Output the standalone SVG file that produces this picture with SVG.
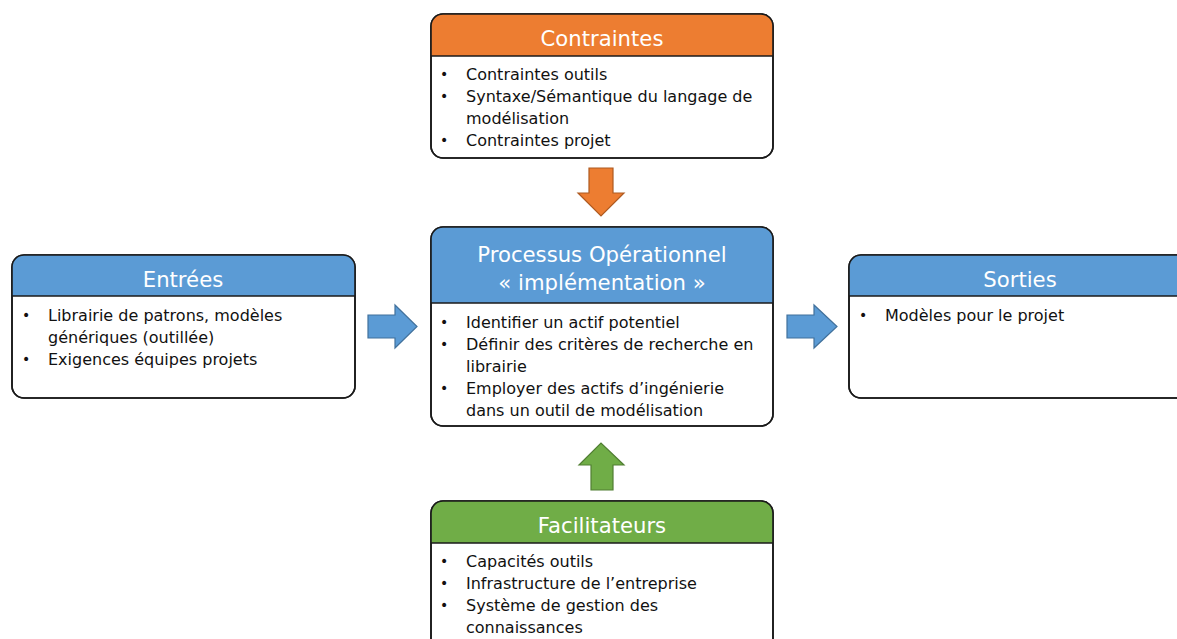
<svg xmlns="http://www.w3.org/2000/svg" width="1177" height="639" viewBox="0 0 1177 639">
<style>
.box{fill:#fff;stroke:#1a1a1a;stroke-width:1.6}
.sep{stroke:#1a1a1a;stroke-width:1.3}
.title{font-family:"DejaVu Sans",Verdana,sans-serif;font-size:21.2px;fill:#fff;text-anchor:middle}
.body{font-family:"DejaVu Sans",Verdana,sans-serif;font-size:16px;fill:#111}
.bl{font-family:"DejaVu Sans",sans-serif;font-size:14px;fill:#111}
.blue{fill:#5B9BD5}
.orange{fill:#ED7D31}
.green{fill:#70AD47}
</style>
<rect width="1177" height="639" fill="#fff"/>
<g id="contraintes">
<rect class="box" x="431" y="14" width="342" height="144" rx="12"/>
<path class="orange" d="M431,56 V26 A12,12 0 0 1 443,14 H761 A12,12 0 0 1 773,26 V56 Z"/>
<rect x="431" y="14" width="342" height="144" rx="12" fill="none" stroke="#1a1a1a" stroke-width="1.6"/>
<line class="sep" x1="431" y1="56" x2="773" y2="56"/>
<text class="title" x="602" y="46">Contraintes</text>
<text class="bl" x="440" y="79">•</text><text class="body" x="466" y="80">Contraintes outils</text>
<text class="bl" x="440" y="101">•</text><text class="body" x="466" y="102">Syntaxe/Sémantique du langage de</text>
<text class="body" x="466" y="124">modélisation</text>
<text class="bl" x="440" y="145">•</text><text class="body" x="466" y="146">Contraintes projet</text>
</g>
<g id="processus">
<rect class="box" x="431" y="227" width="342" height="199" rx="12"/>
<path class="blue" d="M431,303 V239 A12,12 0 0 1 443,227 H761 A12,12 0 0 1 773,239 V303 Z"/>
<rect x="431" y="227" width="342" height="199" rx="12" fill="none" stroke="#1a1a1a" stroke-width="1.6"/>
<line class="sep" x1="431" y1="303" x2="773" y2="303"/>
<text class="title" x="602" y="262">Processus Opérationnel</text>
<text class="title" x="602" y="290">« implémentation »</text>
<text class="bl" x="440" y="327">•</text><text class="body" x="466" y="328">Identifier un actif potentiel</text>
<text class="bl" x="440" y="349">•</text><text class="body" x="466" y="350">Définir des critères de recherche en</text>
<text class="body" x="466" y="372">librairie</text>
<text class="bl" x="440" y="393">•</text><text class="body" x="466" y="394">Employer des actifs d’ingénierie</text>
<text class="body" x="466" y="416">dans un outil de modélisation</text>
</g>
<g id="entrees">
<rect class="box" x="12" y="255" width="343" height="143" rx="12"/>
<path class="blue" d="M12,296 V267 A12,12 0 0 1 24,255 H343 A12,12 0 0 1 355,267 V296 Z"/>
<rect x="12" y="255" width="343" height="143" rx="12" fill="none" stroke="#1a1a1a" stroke-width="1.6"/>
<line class="sep" x1="12" y1="296" x2="355" y2="296"/>
<text class="title" x="183" y="287">Entrées</text>
<text class="bl" x="22" y="320">•</text><text class="body" x="48" y="321">Librairie de patrons, modèles</text>
<text class="body" x="48" y="343">génériques (outillée)</text>
<text class="bl" x="22" y="364">•</text><text class="body" x="48" y="365">Exigences équipes projets</text>
</g>
<g id="sorties">
<rect class="box" x="849" y="255" width="343" height="143" rx="12"/>
<path class="blue" d="M849,296 V267 A12,12 0 0 1 861,255 H1180 A12,12 0 0 1 1192,267 V296 Z"/>
<rect x="849" y="255" width="343" height="143" rx="12" fill="none" stroke="#1a1a1a" stroke-width="1.6"/>
<line class="sep" x1="849" y1="296" x2="1192" y2="296"/>
<text class="title" x="1020" y="287">Sorties</text>
<text class="bl" x="859" y="320">•</text><text class="body" x="885" y="321">Modèles pour le projet</text>
</g>
<g id="facilitateurs">
<rect class="box" x="431" y="501" width="342" height="150" rx="12"/>
<path class="green" d="M431,543 V513 A12,12 0 0 1 443,501 H761 A12,12 0 0 1 773,513 V543 Z"/>
<rect x="431" y="501" width="342" height="150" rx="12" fill="none" stroke="#1a1a1a" stroke-width="1.6"/>
<line class="sep" x1="431" y1="543" x2="773" y2="543"/>
<text class="title" x="602" y="533">Facilitateurs</text>
<text class="bl" x="440" y="566">•</text><text class="body" x="466" y="567">Capacités outils</text>
<text class="bl" x="440" y="588">•</text><text class="body" x="466" y="589">Infrastructure de l’entreprise</text>
<text class="bl" x="440" y="610">•</text><text class="body" x="466" y="611">Système de gestion des</text>
<text class="body" x="466" y="633">connaissances</text>
</g>
<g id="connectors">
<path d="M589,168 H613 V193 H624 L601,216 L578,193 H589 Z" fill="#ED7D31" stroke="#AE5A21" stroke-width="1.2"/>
<path d="M591,490 V465 H579 L601,443 L624,465 H613 V490 Z" fill="#70AD47" stroke="#507E32" stroke-width="1.2"/>
<path d="M368,315 H395 V305 L417,326.5 L395,348 V338 H368 Z" fill="#5B9BD5" stroke="#41719C" stroke-width="1.2"/>
<path d="M787,315 H814 V305 L837,326.5 L814,348 V338 H787 Z" fill="#5B9BD5" stroke="#41719C" stroke-width="1.2"/>
</g>
</svg>
